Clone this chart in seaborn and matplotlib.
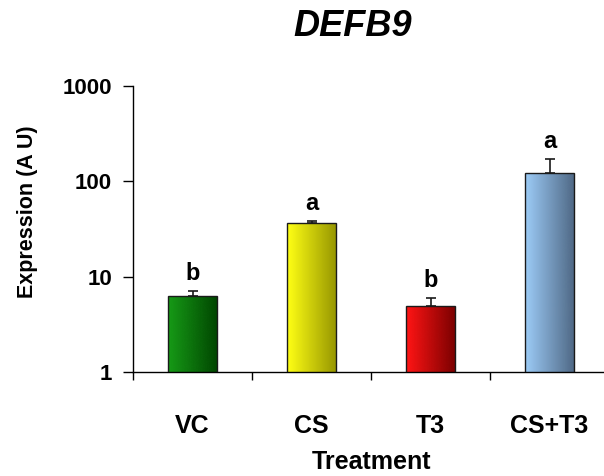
import numpy as np
import pandas as pd
import matplotlib
matplotlib.use("Agg")
import matplotlib.pyplot as plt
from matplotlib.colors import LinearSegmentedColormap
import seaborn as sns

# Expression data (arbitrary units, log scale)
treatments = ["VC", "CS", "T3", "CS+T3"]
expression = [6.2, 36.5, 4.9, 121.0]
upper_error = [0.9, 2.0, 1.1, 51.0]
group_letters = ["b", "a", "b", "a"]

# Horizontal gradient (light -> dark) for each bar
gradient_light = ["#169a16", "#ffff14", "#ff1414", "#9ccbf6"]
gradient_dark = ["#004400", "#949400", "#780000", "#4d6683"]

sns.set_theme(style="white")
plt.rcParams["font.family"] = ["Liberation Sans", "DejaVu Sans"]
plt.rcParams.update({"text.color": "black", "axes.labelcolor": "black",
                     "xtick.color": "black", "ytick.color": "black"})

df = pd.DataFrame({"Treatment": treatments, "Expression": expression})

fig = plt.figure(figsize=(6.04, 4.76), dpi=100)
ax = fig.add_axes([133 / 604, 104 / 476, 476 / 604, 286 / 476])

sns.barplot(data=df, x="Treatment", y="Expression", hue="Treatment",
            palette=gradient_light, width=0.42, edgecolor="#1a1a1a",
            linewidth=1.0, legend=False, ax=ax, zorder=3)
ax.set_yscale("log")
ax.set_ylim(1, 1000)
ax.set_xlim(-0.5, 3.5)

# Replace flat fills with gradients clipped to each bar
bars = [p for p in ax.patches]
for bar, c0, c1 in zip(bars, gradient_light, gradient_dark):
    x0 = bar.get_x()
    x1 = x0 + bar.get_width()
    top = bar.get_y() + bar.get_height()
    cmap = LinearSegmentedColormap.from_list("bar", [c0, c1])
    grad = np.linspace(0, 1, 256).reshape(1, -1)
    im = ax.imshow(grad, extent=[x0, x1, 1, top], aspect="auto", cmap=cmap,
                   origin="lower", zorder=2, interpolation="bicubic")
    im.set_clip_path(bar)
    bar.set_facecolor("none")
ax.set_ylim(1, 1000)
ax.set_xlim(-0.5, 3.5)
ax.set_aspect("auto")

positions = np.arange(len(treatments))
ax.errorbar(positions, expression,
            yerr=[np.zeros(len(expression)), upper_error],
            fmt="none", ecolor="#1a1a1a", elinewidth=1.2, capsize=3.8,
            capthick=1.2, zorder=1)

for xpos, val, err, letter in zip(positions, expression, upper_error, group_letters):
    ax.annotate(letter, (xpos, val + err), xytext=(0, 4),
                textcoords="offset points", ha="center", va="bottom",
                fontsize=17, fontweight="bold", color="black")

# Axes styling
for side in ["top", "right"]:
    ax.spines[side].set_visible(False)
for side in ["left", "bottom"]:
    ax.spines[side].set_color("black")
    ax.spines[side].set_linewidth(1.0)

ax.set_yticks([1, 10, 100, 1000])
ax.set_yticklabels(["1", "10", "100", "1000"])
ax.yaxis.set_minor_locator(matplotlib.ticker.NullLocator())
ax.tick_params(axis="y", which="major", left=True, direction="out", length=7,
               width=1, color="black", pad=8, labelsize=16)
for lbl in ax.get_yticklabels():
    lbl.set_fontweight("bold")

ax.set_xticks(positions)
ax.set_xticklabels(treatments, fontsize=18, fontweight="bold")
ax.tick_params(axis="x", which="major", bottom=False, length=0, pad=30)
ax.set_xticks(np.arange(-0.5, 4.0, 1.0), minor=True)
ax.tick_params(axis="x", which="minor", bottom=True, direction="out",
               length=6, width=1, color="black")

ax.set_xlabel("")
ax.set_ylabel("")
ax.grid(False)

fig.text(28 / 604, 1 - 212 / 476, "Expression (A U)", rotation=90,
         ha="center", va="center", fontsize=15.5, fontweight="bold")
fig.text(372 / 604, 1 - 462 / 476, "Treatment", ha="center", va="center",
         fontsize=18, fontweight="bold")
fig.text(353 / 604, 1 - 27 / 476, "DEFB9", ha="center", va="center",
         fontsize=26, fontweight="bold", fontstyle="italic")

fig.savefig("out.png", dpi=100, facecolor="white")
